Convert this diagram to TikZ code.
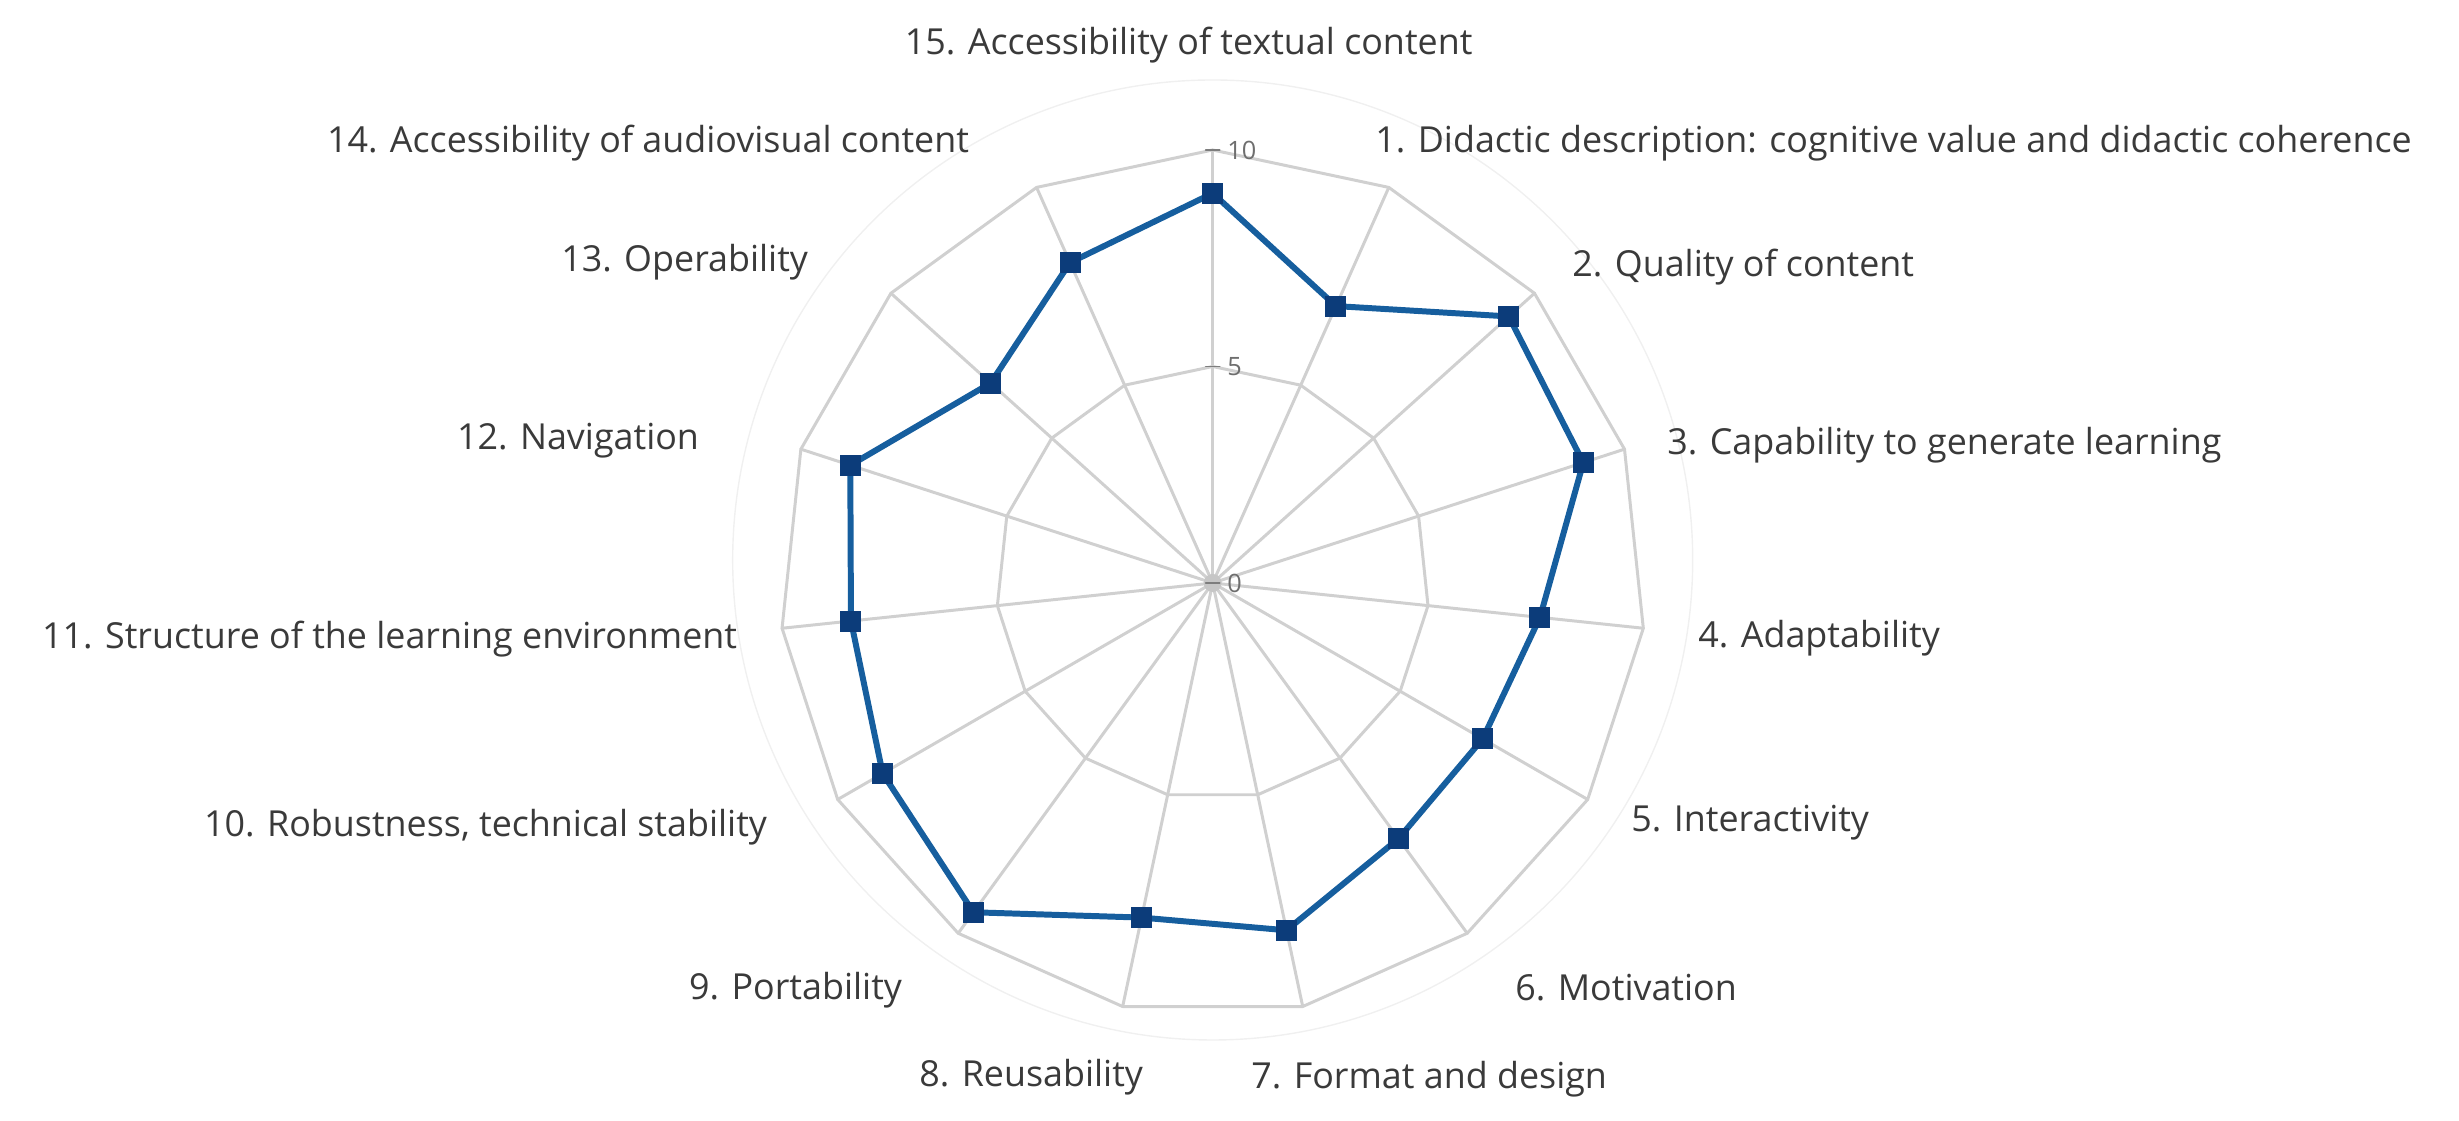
\documentclass[tikz,border=0pt]{standalone}
\usepackage{fontspec}
\setmainfont{Open Sans}
\definecolor{gridgray}{RGB}{208,208,208}
\definecolor{serieblue}{RGB}{22,94,158}
\definecolor{markblue}{RGB}{12,60,122}
\definecolor{labeltext}{RGB}{58,58,58}
\definecolor{ticktext}{RGB}{110,110,110}
\begin{document}
\begin{tikzpicture}[line join=round,line cap=round,font=\fontsize{10.2}{12}\selectfont,
	axlabel/.style={inner sep=0pt,text=labeltext},
	ticklabel/.style={inner sep=0pt,anchor=west,text=ticktext,font=\fontsize{7.2}{8}\selectfont},
	sqmark/.style={fill=markblue,minimum size=0.21cm,inner sep=0pt},
	gridline/.style={gridgray,line width=0.85pt}]
	\useasboundingbox (-12.127,-5.38) rectangle (12.463,5.83);
	\draw[black!6,line width=0.4pt] (0,0.23) circle (4.8);
	\foreach \r in {5,10}
	\draw[gridline] (90:\r*0.433) \foreach \k in {1,...,15}{-- ({90-24*\k}:\r*0.433)} -- cycle;
	\foreach \k in {1,...,15}
	\draw[gridline] (0,0)--({90-24*\k}:4.33);
	\fill[gray!45] (0,0) circle (0.09);
	\foreach \r in {0,5,10}{
		\draw[gridgray!60!black,line width=0.5pt] (-0.07,\r*0.433)--(0.07,\r*0.433);
		\node[ticklabel] (t\r) at (0.14,\r*0.433) {\r};}
	\foreach \v [count=\k] in {7.0,9.2,9.0,7.6,7.2,7.3,8.2,7.9,9.4,8.8,8.4,8.8,6.9,8.1,9.0}
	\coordinate (p\k) at ({90-24*\k}:\v*0.433);
	\draw[serieblue,line width=1.7pt] (p1) \foreach \k in {2,...,15}{--(p\k)} --cycle;
	\foreach \k in {1,...,15}
	\node[sqmark] (m\k) at (p\k) {};
	\node[axlabel] (l15) at (-0.24,5.38) {15. Accessibility of textual content};
	\node[axlabel,anchor=west] (l1) at (1.62,4.40) {1. Didactic description: cognitive value and didactic coherence};
	\node[axlabel,anchor=west] (l2) at (3.59,3.16) {2. Quality of content};
	\node[axlabel,anchor=west] (l3) at (4.54,1.38) {3. Capability to generate learning};
	\node[axlabel,anchor=west] (l4) at (4.85,-0.55) {4. Adaptability};
	\node[axlabel,anchor=west] (l5) at (4.18,-2.40) {5. Interactivity};
	\node[axlabel,anchor=west] (l6) at (3.02,-4.05) {6. Motivation};
	\node[axlabel,anchor=west] (l7) at (0.38,-4.96) {7. Format and design};
	\node[axlabel,anchor=east] (l8) at (-0.69,-4.94) {8. Reusability};
	\node[axlabel,anchor=east] (l9) at (-3.10,-4.07) {9. Portability};
	\node[axlabel,anchor=east] (l10) at (-4.45,-2.44) {10. Robustness, technical stability};
	\node[axlabel,anchor=east] (l11) at (-4.75,-0.56) {11. Structure of the learning environment};
	\node[axlabel,anchor=east] (l12) at (-5.13,1.42) {12. Navigation};
	\node[axlabel,anchor=east] (l13) at (-4.04,3.21) {13. Operability};
	\node[axlabel,anchor=east] (l14) at (-2.43,4.40) {14. Accessibility of audiovisual content};
\end{tikzpicture}
\end{document}
